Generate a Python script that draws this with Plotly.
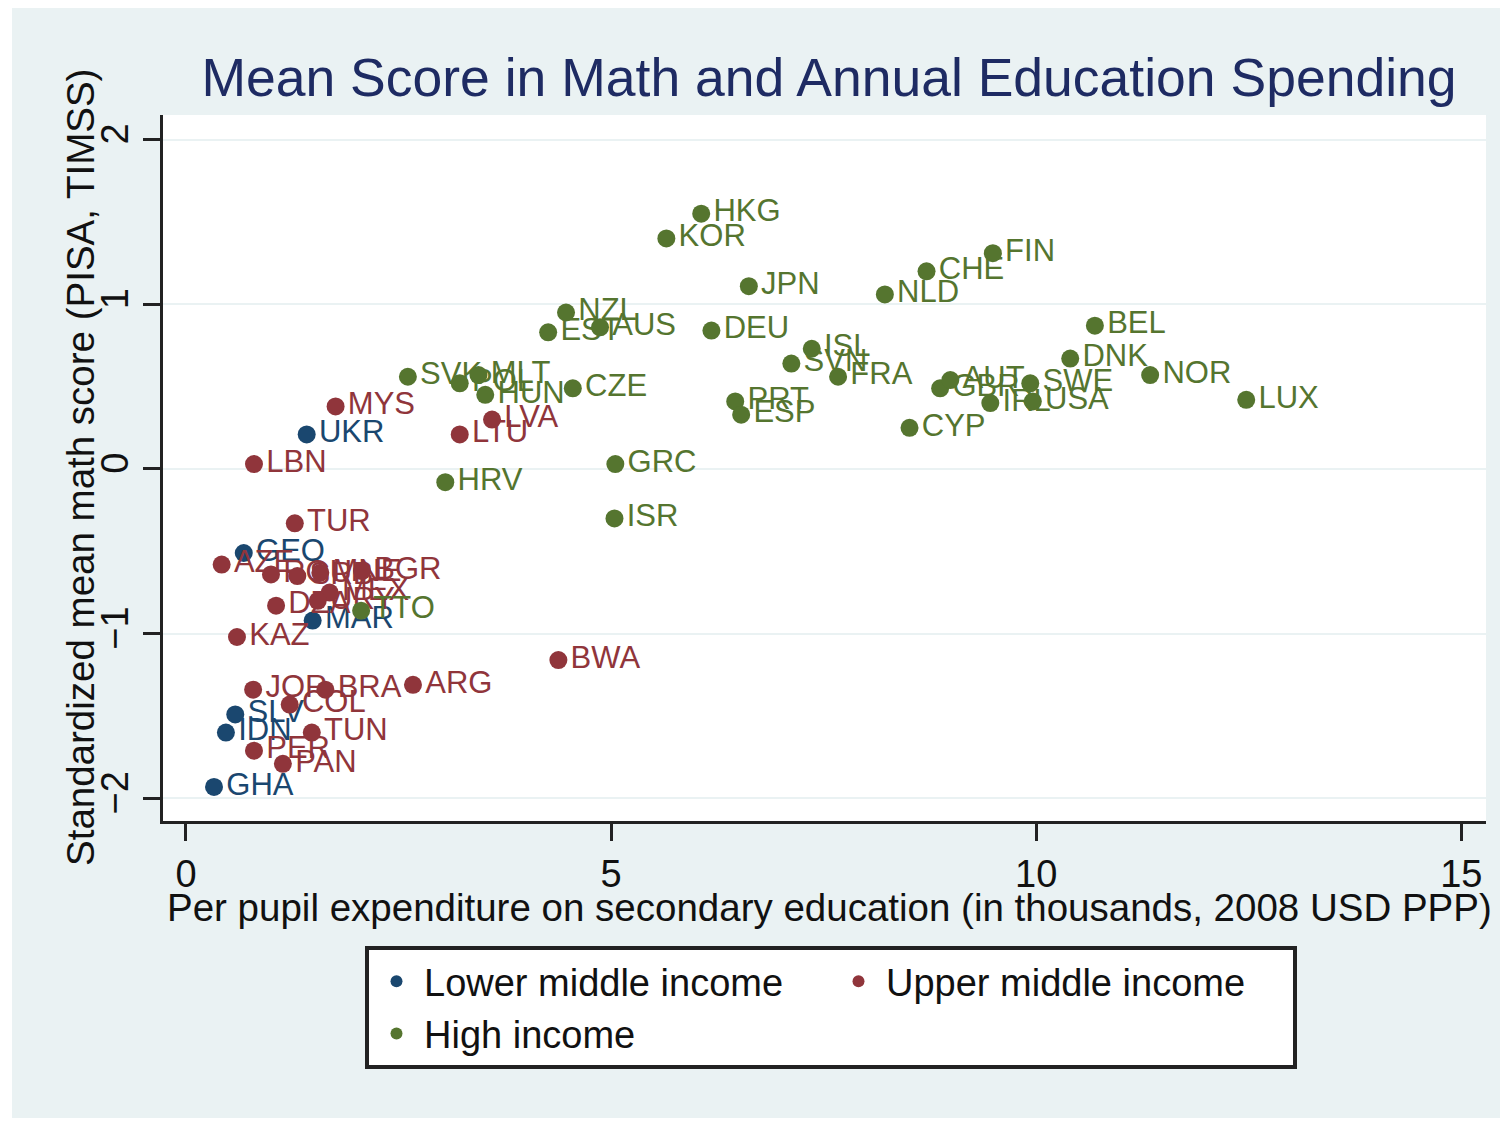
import plotly.graph_objects as go

# ---------------- data ----------------
lower_codes = ["UKR", "GEO", "MAR", "SLV", "IDN", "GHA"]
lower_x = [1.42, 0.68, 1.49, 0.58, 0.47, 0.33]
lower_y = [0.21, -0.51, -0.92, -1.49, -1.60, -1.93]

upper_codes = ["MYS", "LBN", "LVA", "LTU", "TUR", "AZE", "KAZ", "BWA", "ARG", "BRA",
               "JOR", "COL", "TUN", "PER", "PAN", "ROU", "SRB", "MNE", "BGR", "MEX",
               "URY", "DZA"]
upper_x = [1.76, 0.80, 3.60, 3.22, 1.28, 0.42, 0.60, 4.38, 2.67, 1.64,
           0.79, 1.22, 1.48, 0.80, 1.14, 1.00, 1.31, 1.58, 2.07, 1.69,
           1.55, 1.06]
upper_y = [0.38, 0.03, 0.30, 0.21, -0.33, -0.58, -1.02, -1.16, -1.31, -1.34,
           -1.34, -1.43, -1.60, -1.71, -1.79, -0.64, -0.65, -0.63, -0.62, -0.75,
           -0.80, -0.83]

high_codes = ["HKG", "KOR", "FIN", "CHE", "JPN", "NLD", "NZL", "AUS", "EST", "DEU",
              "BEL", "ISL", "SVN", "FRA", "DNK", "NOR", "LUX", "PRT", "ESP", "CYP",
              "GRC", "ISR", "HRV", "CZE", "MLT", "HUN", "POL", "SVK", "GBR", "AUT",
              "IRL", "SWE", "USA", "TTO"]
high_x = [6.06, 5.65, 9.49, 8.71, 6.62, 8.22, 4.47, 4.87, 4.26, 6.18,
          10.69, 7.36, 7.12, 7.67, 10.40, 11.34, 12.47, 6.46, 6.53, 8.51,
          5.05, 5.04, 3.05, 4.55, 3.44, 3.52, 3.22, 2.61, 8.87, 8.99,
          9.46, 9.93, 9.96, 2.06]
high_y = [1.55, 1.40, 1.31, 1.20, 1.11, 1.06, 0.95, 0.86, 0.83, 0.84,
          0.87, 0.73, 0.64, 0.56, 0.67, 0.57, 0.42, 0.41, 0.33, 0.25,
          0.03, -0.30, -0.08, 0.49, 0.57, 0.45, 0.52, 0.56, 0.49, 0.54,
          0.40, 0.52, 0.41, -0.86]

series_names = ["Lower middle income", "Upper middle income", "High income"]
x_ticks = [0, 5, 10, 15]
y_ticks = [-2, -1, 0, 1, 2]

title_text = "Mean Score in Math and Annual Education Spending"
x_title = "Per pupil expenditure on secondary education (in thousands, 2008 USD PPP)"
y_title = "Standardized mean math score (PISA, TIMSS)"

# ---------------- styling ----------------
colors = ["#1a476f", "#90353b", "#55752f"]
FONT = "Liberation Sans, Arial, sans-serif"
W, H = 1506, 1121
L, R, T, B = 163, 20, 115, 300

fig = go.Figure()
for name, xs, ys, codes, c in zip(series_names,
                                  [lower_x, upper_x, high_x],
                                  [lower_y, upper_y, high_y],
                                  [lower_codes, upper_codes, high_codes],
                                  colors):
    fig.add_trace(go.Scatter(
        x=xs, y=ys, text=codes, name=name,
        mode="markers+text", textposition="middle right",
        marker=dict(size=18, color=c, line=dict(width=0)),
        textfont=dict(family=FONT, size=31, color=c),
        cliponaxis=False,
    ))

axis_color = "#222222"
fig.update_xaxes(
    range=[-0.27, 15.29], tickvals=x_ticks, ticks="outside", ticklen=17,
    tickwidth=3, tickcolor=axis_color, showline=True, linewidth=3,
    linecolor=axis_color, showgrid=False, zeroline=False,
    tickfont=dict(family=FONT, size=38, color="#111111"),
)
fig.update_yaxes(
    range=[-2.137, 2.149], tickvals=y_ticks, tickangle=-90, ticks="outside",
    ticklen=17, tickwidth=3, tickcolor=axis_color, showline=True, linewidth=3,
    linecolor=axis_color, showgrid=True, gridcolor="#EAF2F3", gridwidth=2,
    zeroline=False, tickfont=dict(family=FONT, size=38, color="#111111"),
)

pw, ph = W - L - R, H - T - B
def px(xp):
    return (xp - L) / pw
def py(yp):
    return (H - B - yp) / ph

annotations = [
    dict(text=x_title, xref="paper", yref="paper", x=px(829), y=py(908),
         xanchor="center", yanchor="middle", showarrow=False,
         font=dict(family=FONT, size=38.5, color="#111111")),
    dict(text=y_title, xref="paper", yref="paper", x=px(80), y=py(468),
         xanchor="center", yanchor="middle", textangle=-90, showarrow=False,
         font=dict(family=FONT, size=38.5, color="#111111")),
]

shapes = [
    dict(type="rect", xref="paper", yref="paper", x0=px(0), x1=px(12), y0=py(H), y1=py(0),
         fillcolor="white", line=dict(width=0), layer="below"),
    dict(type="rect", xref="paper", yref="paper", x0=px(1500), x1=px(W), y0=py(H), y1=py(0),
         fillcolor="white", line=dict(width=0), layer="below"),
    dict(type="rect", xref="paper", yref="paper", x0=px(0), x1=px(W), y0=py(8), y1=py(0),
         fillcolor="white", line=dict(width=0), layer="below"),
    dict(type="rect", xref="paper", yref="paper", x0=px(0), x1=px(W), y0=py(H), y1=py(1118),
         fillcolor="white", line=dict(width=0), layer="below"),
]

fig.update_layout(
    width=W, height=H,
    margin=dict(l=L, r=R, t=T, b=B, autoexpand=False),
    paper_bgcolor="#EAF2F3", plot_bgcolor="white",
    font=dict(family=FONT, size=38, color="#111111"),
    title=dict(text=title_text, xref="container", yref="container",
               x=829 / W, y=1 - 77 / H, xanchor="center", yanchor="middle",
               font=dict(family=FONT, size=53.5, color="#1e2b63")),
    showlegend=True,
    legend=dict(
        orientation="h", x=px(365), y=py(946), xanchor="left", yanchor="top",
        bgcolor="white", bordercolor="#222222", borderwidth=4,
        entrywidth=402, entrywidthmode="pixels", itemwidth=45,
        itemsizing="constant", font=dict(family=FONT, size=38, color="#111111"),
    ),
    annotations=annotations, shapes=shapes,
)

fig.write_html("out.html")
